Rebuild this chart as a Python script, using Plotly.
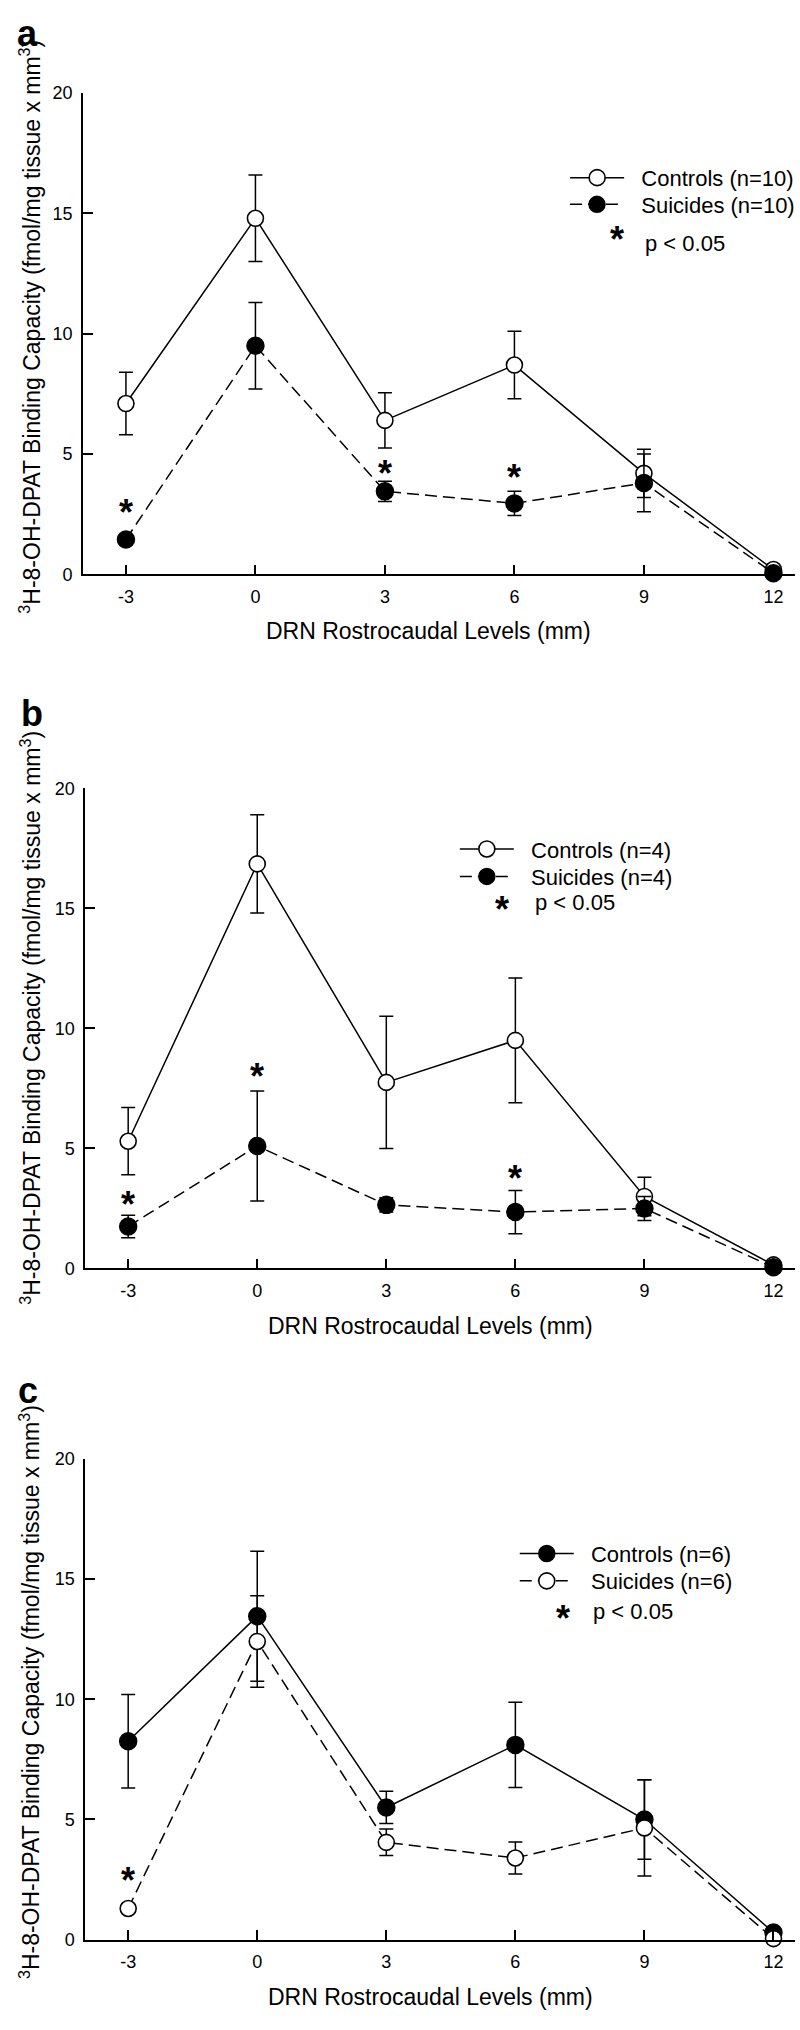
import plotly.graph_objects as go

# ---------------- data ----------------
levels = [-3, 0, 3, 6, 9, 12]
x_ticks = [-3, 0, 3, 6, 9, 12]
y_ticks = [0, 5, 10, 15, 20]

a_controls = [7.1, 14.8, 6.4, 8.7, 4.2, 0.2]
a_controls_err = [1.3, 1.8, 1.15, 1.4, 1.0, 0.1]
a_suicides = [1.45, 9.5, 3.45, 2.95, 3.8, 0.05]
a_suicides_err = [0.2, 1.8, 0.42, 0.5, 1.2, 0.05]
a_sig_x = [-3, 3, 6]
a_sig_y = [2.86, 4.47, 4.33]

b_controls = [5.3, 16.85, 7.75, 9.5, 3.0, 0.15]
b_controls_err = [1.4, 2.05, 2.75, 2.6, 0.8, 0.1]
b_suicides = [1.75, 5.1, 2.65, 2.35, 2.5, 0.05]
b_suicides_err = [0.47, 2.29, 0.3, 0.9, 0.5, 0.05]
b_sig_x = [-3, 0, 6]
b_sig_y = [2.95, 8.3, 4.02]

c_controls = [8.25, 13.45, 5.5, 8.1, 5.0, 0.3]
c_controls_err = [1.94, 2.7, 0.67, 1.77, 1.65, 0.1]
c_suicides = [1.3, 12.4, 4.05, 3.4, 4.65, 0.05]
c_suicides_err = [0.2, 1.9, 0.55, 0.66, 2.0, 0.05]
c_sig_x = [-3]
c_sig_y = [2.77]

panel_letters = ["a", "b", "c"]
legend_names = [
    ("Controls (n=10)", "Suicides (n=10)"),
    ("Controls (n=4)", "Suicides (n=4)"),
    ("Controls (n=6)", "Suicides (n=6)"),
]
y_title = "<sup>3</sup>H-8-OH-DPAT Binding Capacity (fmol/mg tissue x mm<sup>3</sup>)"
x_title = "DRN Rostrocaudal Levels (mm)"
sig_label = "p < 0.05"

# ---------------- layout geometry (pixels) ----------------
W, H = 800, 2030
FONT = "Liberation Sans, Arial, Helvetica, sans-serif"

def py(p):
    return 1 - p / H

def px(p):
    return p / W

panels = [
    dict(left=83.3, top=84, bottom=570,
         controls=a_controls, controls_err=a_controls_err,
         suicides=a_suicides, suicides_err=a_suicides_err,
         sig_x=a_sig_x, sig_y=a_sig_y, controls_filled=False,
         letter_xy=(28, 24), legend_x=568.7, legend_rows=(169.5, 196.5),
         sig_xy=(620.5, 225), sigtxt_xy=(647, 236),
         xtitle_xy=(431, 627), ytitle_xy=(30, 320)),
    dict(left=85.7, top=786, bottom=1271,
         controls=b_controls, controls_err=b_controls_err,
         suicides=b_suicides, suicides_err=b_suicides_err,
         sig_x=b_sig_x, sig_y=b_sig_y, controls_filled=False,
         letter_xy=(32, 710), legend_x=457.7, legend_rows=(847.5, 875.2),
         sig_xy=(505, 901), sigtxt_xy=(536, 901),
         xtitle_xy=(433, 1329), ytitle_xy=(31, 1018)),
    dict(left=85.7, top=1463, bottom=1949,
         controls=c_controls, controls_err=c_controls_err,
         suicides=c_suicides, suicides_err=c_suicides_err,
         sig_x=c_sig_x, sig_y=c_sig_y, controls_filled=True,
         letter_xy=(28, 1394), legend_x=518, legend_rows=(1559, 1586.7),
         sig_xy=(566.7, 1617.5), sigtxt_xy=(595, 1617.5),
         xtitle_xy=(433, 2007), ytitle_xy=(30, 1699)),
]

fig = go.Figure()
annotations = []
layout = {}
leg_count = 0

for i, p in enumerate(panels):
    n = i + 1
    xa = "x" if n == 1 else f"x{n}"
    ya = "y" if n == 1 else f"y{n}"
    filled = dict(color="black", size=17, line=dict(color="black", width=1.5))
    opened = dict(color="white", size=16, line=dict(color="black", width=1.6))
    c_marker = filled if p["controls_filled"] else opened
    s_marker = opened if p["controls_filled"] else filled
    cname, sname = legend_names[i]
    err_style = dict(type="data", thickness=1.5, width=7, color="black")

    series = [
        (cname, p["controls"], p["controls_err"], c_marker, "solid"),
        (sname, p["suicides"], p["suicides_err"], s_marker, "12px,6px"),
    ]
    for k, (name, yv, ev, mk, dash) in enumerate(series):
        leg_count += 1
        leg = "legend" if leg_count == 1 else f"legend{leg_count}"
        fig.add_trace(go.Scatter(
            x=levels, y=yv, mode="lines+markers",
            name="\u00a0\u00a0" + name, legend=leg,
            line=dict(color="black", width=1.5, dash=dash),
            marker=mk, error_y=dict(array=ev, **err_style),
            xaxis=xa, yaxis=ya, cliponaxis=False))
        layout[leg] = dict(
            x=px(p["legend_x"]), y=py(p["legend_rows"][k]),
            xanchor="left", yanchor="middle",
            xref="paper", yref="paper",
            font=dict(family=FONT, size=22, color="black"),
            bgcolor="rgba(0,0,0,0)", borderwidth=0, itemwidth=54)

    axis_common = dict(
        showline=True, linecolor="black", linewidth=1.5,
        ticks="inside", ticklen=10, tickwidth=1.5, tickcolor="black",
        showgrid=False, zeroline=False,
        tickfont=dict(family=FONT, size=18, color="black"),
        ticklabelstandoff=5,
    )
    layout[f"xaxis{'' if n == 1 else n}"] = dict(
        domain=[px(p["left"]), 1.0], range=[-4, 12.5],
        tickmode="array", tickvals=x_ticks, ticktext=[str(v) for v in x_ticks],
        anchor=ya, **axis_common)
    layout[f"yaxis{'' if n == 1 else n}"] = dict(
        domain=[py(p["bottom"]), py(p["top"])], range=[0, 20],
        tickmode="array", tickvals=y_ticks, ticktext=[str(v) for v in y_ticks],
        anchor=xa, **axis_common)

    # significance asterisks on the plot
    for sx, sy in zip(p["sig_x"], p["sig_y"]):
        annotations.append(dict(
            x=sx, y=sy, xref=xa, yref=ya, text="<b>*</b>", showarrow=False,
            xanchor="center", yanchor="middle",
            font=dict(family=FONT, size=36, color="black"), yshift=-7))
    # legend asterisk + label
    ax_, ay_ = p["sig_xy"]
    annotations.append(dict(
        x=px(ax_), y=py(ay_), xref="paper", yref="paper", text="<b>*</b>",
        xanchor="center", yanchor="middle",
        showarrow=False, font=dict(family=FONT, size=36, color="black"), yshift=-7))
    tx, ty = p["sigtxt_xy"]
    annotations.append(dict(
        x=px(tx), y=py(ty), xref="paper", yref="paper", text=sig_label,
        showarrow=False, xanchor="left", yanchor="middle",
        font=dict(family=FONT, size=22, color="black")))
    # panel letter
    lx_, ly_ = p["letter_xy"]
    annotations.append(dict(
        x=px(lx_), y=py(ly_), xref="paper", yref="paper", text=f"<b>{panel_letters[i]}</b>",
        xanchor="center", yanchor="middle",
        showarrow=False, font=dict(family=FONT, size=36, color="black")))
    # axis titles
    xt, yt = p["xtitle_xy"]
    annotations.append(dict(
        x=px(xt), y=py(yt), xref="paper", yref="paper", text=x_title,
        xanchor="center", yanchor="middle",
        showarrow=False, font=dict(family=FONT, size=23, color="black")))
    yx, yy = p["ytitle_xy"]
    annotations.append(dict(
        x=px(yx), y=py(yy), xref="paper", yref="paper", text=y_title, textangle=-90,
        xanchor="center", yanchor="middle",
        showarrow=False, font=dict(family=FONT, size=23, color="black")))

fig.update_layout(
    width=W, height=H,
    margin=dict(l=0, r=0, t=0, b=0),
    paper_bgcolor="white", plot_bgcolor="white",
    showlegend=True,
    annotations=annotations,
    font=dict(family=FONT, color="black"),
    **layout,
)

fig.write_html(
    "out.html",
    config={"displayModeBar": False},
    post_script="document.body.style.margin='0px';document.body.style.overflow='hidden';",
)
